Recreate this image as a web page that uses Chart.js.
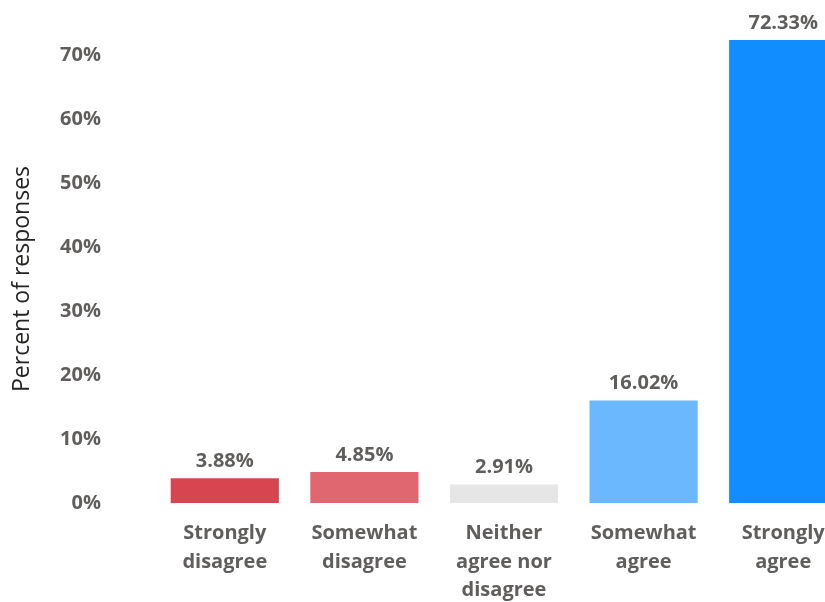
<!DOCTYPE html>
<html>
<head>
<meta charset="utf-8">
<script src="https://cdn.jsdelivr.net/npm/chart.js@4"></script>
<style>
  html, body { margin: 0; padding: 0; background: #fff; overflow: hidden; }
  #wrap { position: absolute; left: 0; top: 0; width: 853px; height: 602px; }
</style>
</head>
<body>
<div id="wrap"><canvas id="chart"></canvas></div>
<script>
const categories = [
  ["Strongly", "disagree"],
  ["Somewhat", "disagree"],
  ["Neither", "agree nor", "disagree"],
  ["Somewhat", "agree"],
  ["Strongly", "agree"]
]
const percents = [3.88, 4.85, 2.91, 16.02, 72.33]
const barColors = ["#D64550", "#E0676F", "#E6E6E6", "#6CB8FF", "#118DFF"]
const yTicks = [0, 10, 20, 30, 40, 50, 60, 70]

const TEXT_GRAY = "#605E5C"

// value labels drawn above each bar
const barValueLabels = {
  id: "barValueLabels",
  afterDatasetsDraw(chart) {
    const { ctx } = chart
    const meta = chart.getDatasetMeta(0)
    ctx.save()
    ctx.font = "bold 20px 'Open Sans', sans-serif"
    ctx.fillStyle = TEXT_GRAY
    ctx.textAlign = "center"
    ctx.textBaseline = "middle"
    meta.data.forEach((bar, i) => {
      ctx.fillText(percents[i].toFixed(2) + "%", bar.x, bar.y - 17)
    })
    ctx.restore()
  }
}

Chart.defaults.font.family = "'Open Sans', sans-serif"

new Chart(document.getElementById("chart"), {
  type: "bar",
  data: {
    labels: categories,
    datasets: [{
      data: percents,
      backgroundColor: barColors,
      borderWidth: 0,
      categoryPercentage: 1,
      barPercentage: 0.775,
      clip: false
    }]
  },
  options: {
    responsive: true,
    maintainAspectRatio: false,
    animation: false,
    layout: { padding: { top: 55, left: 0, right: 0, bottom: 0 } },
    plugins: {
      legend: { display: false },
      tooltip: { enabled: false }
    },
    scales: {
      x: {
        grid: { display: false, drawTicks: false },
        border: { display: false },
        ticks: {
          color: TEXT_GRAY,
          font: { size: 20, weight: "bold", lineHeight: 1.43 },
          padding: 16,
          maxRotation: 0,
          autoSkip: false
        },
        afterFit: s => { s.height = 99 }
      },
      y: {
        min: 0,
        max: 70,
        grid: { display: false, drawTicks: false },
        border: { display: false },
        afterBuildTicks: s => { s.ticks = yTicks.map(v => ({ value: v })) },
        ticks: {
          color: TEXT_GRAY,
          font: { size: 20, weight: "bold" },
          padding: 54,
          callback: v => v + "%"
        },
        title: {
          display: true,
          text: "Percent of responses",
          color: "#252423",
          font: { size: 23, weight: "normal" },
          padding: { top: 9, bottom: 0 }
        },
        // fixed width; the wide tick padding should not push the plot area down
        afterFit: s => {
          s.width = 155
          s.paddingTop = 0
          s.paddingBottom = 0
        }
      }
    }
  },
  plugins: [barValueLabels]
})
</script>
</body>
</html>
